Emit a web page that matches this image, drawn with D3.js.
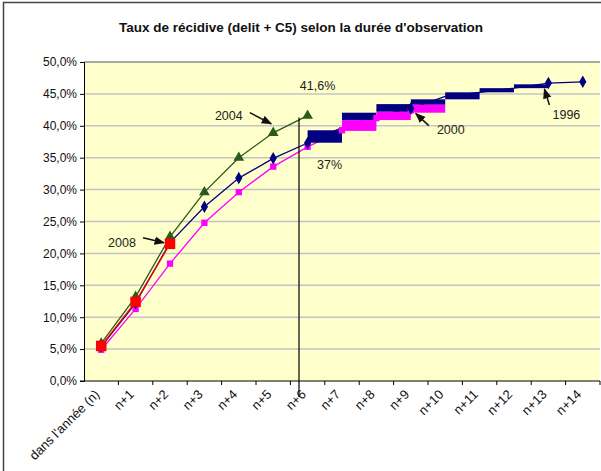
<!DOCTYPE html>
<html>
<head>
<meta charset="utf-8">
<script src="https://cdn.jsdelivr.net/npm/d3@7"></script>
<style>
  body { margin: 0; background: #fff; }
  text { font-family: "Liberation Sans", Arial, sans-serif; }
</style>
</head>
<body>
<script>
// categories and tick values
const categories = ["dans l'année (n)", "n+1", "n+2", "n+3", "n+4", "n+5", "n+6",
    "n+7", "n+8", "n+9", "n+10", "n+11", "n+12", "n+13", "n+14"];
const yTicks = [0, 5, 10, 15, 20, 25, 30, 35, 40, 45, 50];

// series (percent), starting at "dans l'année (n)"
const s1996 = [5.4, 12.2, 21.7, 27.3, 31.8, 34.9, 37.3, 39.7, 41.6, 42.7, 44.6, 45.25, 45.9, 46.7, 46.9];
const s2000 = [4.9, 11.3, 18.4, 24.8, 29.6, 33.6, 36.7, 39.3, 41.2, 42.4];
const s2004 = [5.9, 13.2, 22.6, 29.6, 35.0, 38.9, 41.6];
const s2008 = [5.5, 12.4, 21.5];
// 1996 points whose markers show (the others sit under the thick steps)
const marked1996 = [0, 1, 2, 3, 4, 5, 6, 9, 13, 14];

// thick step bands (one block per category, from its centre to the next one)
const navyStart = 6;
const navyLow  = [37.35, 40.9, 42.2, 43.3, 44.15, 45.25, 45.9];
const navyHigh = [39.3, 42.05, 43.4, 44.15, 45.25, 45.9, 46.5];
const pinkStart = 7;
const pinkLow  = [39.2, 40.9, 42.05];
const pinkHigh = [40.9, 42.2, 43.3];

const width = 601;
const height = 471;
const plotLeft = 84, plotRight = 600, plotTop = 62, plotBottom = 381;

const svg = d3.select('body')
    .append('svg')
    .attr('width', width)
    .attr('height', height);

// chart frame
svg.append('rect')
    .attr('x', 3.5).attr('y', 2.5)
    .attr('width', 640).attr('height', 520)
    .attr('fill', '#fff')
    .attr('stroke', '#444')
    .attr('stroke-width', 1.5);

svg.append('text')
    .attr('x', 301).attr('y', 32)
    .attr('text-anchor', 'middle')
    .attr('font-size', 13.5)
    .attr('font-weight', 'bold')
    .attr('fill', '#111')
    .text("Taux de récidive (delit + C5) selon la durée d'observation");

const x = d3.scaleBand()
    .domain(categories)
    .range([plotLeft, plotRight])
    .padding(0);
const cx = i => x(categories[i]) + x.bandwidth() / 2;

const y = d3.scaleLinear()
    .domain([0, 50])
    .range([plotBottom, plotTop]);

// plot area
svg.append('rect')
    .attr('x', plotLeft).attr('y', plotTop)
    .attr('width', plotRight - plotLeft).attr('height', plotBottom - plotTop)
    .attr('fill', '#FFFFCC');

svg.append('g')
    .selectAll('line')
    .data(yTicks.filter(d => d > 0))
    .enter()
    .append('line')
    .attr('x1', plotLeft).attr('x2', plotRight)
    .attr('y1', d => y(d)).attr('y2', d => y(d))
    .attr('stroke', d => d === 50 ? '#8c8c8c' : '#c4c4c4')
    .attr('stroke-width', 1.5);

// axes
const yAxis = d3.axisLeft(y)
    .tickValues(yTicks)
    .tickSize(4)
    .tickFormat(d => d.toFixed(1).replace('.', ',') + '%');

svg.append('g')
    .attr('transform', `translate(${plotLeft}, 0)`)
    .call(yAxis)
    .call(g => g.select('.domain').attr('stroke', '#000'))
    .call(g => g.selectAll('text').attr('font-size', 12).attr('fill', '#111')
        .attr('font-family', '"Liberation Sans", Arial, sans-serif').attr('x', -7));

const xAxis = svg.append('g')
    .attr('transform', `translate(0, ${plotBottom})`);

xAxis.append('line')
    .attr('x1', plotLeft - 4).attr('x2', plotRight)
    .attr('stroke', '#000');

xAxis.selectAll('.tick')
    .data(categories.slice(1).concat(['end']))
    .enter()
    .append('line')
    .attr('x1', (d, i) => plotLeft + x.bandwidth() * (i + 1))
    .attr('x2', (d, i) => plotLeft + x.bandwidth() * (i + 1))
    .attr('y1', 0).attr('y2', 4)
    .attr('stroke', '#000');

xAxis.selectAll('text')
    .data(categories)
    .enter()
    .append('text')
    .attr('transform', (d, i) => `translate(${cx(i) - 4}, 11) rotate(-45)`)
    .attr('text-anchor', 'end')
    .attr('dy', '0.35em')
    .attr('font-size', 13)
    .attr('fill', '#111')
    .text(d => d);

// series
const line = d3.line()
    .x((d, i) => cx(i))
    .y(d => y(d));

function seriesLine(values, color) {
    svg.append('path')
        .datum(values)
        .attr('d', line)
        .attr('fill', 'none')
        .attr('stroke', color)
        .attr('stroke-width', 1.3);
}
function seriesMarks(values, color, symbol, size, only) {
    svg.append('g')
        .selectAll('path')
        .data(values.map((v, i) => [i, v]).filter(d => !only || only.includes(d[0])))
        .enter()
        .append('path')
        .attr('transform', d => `translate(${cx(d[0])}, ${y(d[1])})`)
        .attr('d', d3.symbol().type(symbol).size(size))
        .attr('fill', color);
}

seriesLine(s2000, '#FF00FF');
seriesLine(s1996, '#000080');

// thick step blocks drawn over the long series
function blocks(start, lows, highs, color) {
    svg.append('g')
        .selectAll('rect')
        .data(lows)
        .enter()
        .append('rect')
        .attr('x', (d, i) => cx(start + i))
        .attr('width', x.bandwidth())
        .attr('y', (d, i) => y(highs[i]))
        .attr('height', (d, i) => y(d) - y(highs[i]))
        .attr('fill', color);
}
blocks(navyStart, navyLow, navyHigh, '#000080');
blocks(pinkStart, pinkLow, pinkHigh, '#FF00FF');

seriesMarks(s2000, '#FF00FF', d3.symbolSquare, 40);
seriesMarks(s1996, '#000080', d3.symbolDiamond, 45, marked1996);

seriesLine(s2004, '#2B5A1B');
seriesMarks(s2004, '#2B5A1B', d3.symbolTriangle, 50);
seriesLine(s2008, '#FF0000');
seriesMarks(s2008, '#FF0000', d3.symbolSquare, 110);

// vertical marker between n+5 and n+6
const vx = x('n+6') + x.bandwidth() * 0.25;
svg.append('line')
    .attr('x1', vx).attr('x2', vx)
    .attr('y1', y(s2004[6]) + 2).attr('y2', plotBottom + 16)
    .attr('stroke', '#000')
    .attr('stroke-width', 1.2);

// annotations
svg.append('defs').append('marker')
    .attr('id', 'arrow')
    .attr('viewBox', '0 0 10 10')
    .attr('refX', 9).attr('refY', 5)
    .attr('markerWidth', 7).attr('markerHeight', 7)
    .attr('orient', 'auto')
    .append('path')
    .attr('d', 'M0,1 L10,5 L0,9 z')
    .attr('fill', '#111');

function note(label, tx, ty, arrow) {
    svg.append('text')
        .attr('x', tx).attr('y', ty)
        .attr('text-anchor', 'middle')
        .attr('font-size', 12.5)
        .attr('fill', '#222')
        .text(label);
    if (arrow) {
        svg.append('line')
            .attr('x1', arrow[0]).attr('y1', arrow[1])
            .attr('x2', arrow[2]).attr('y2', arrow[3])
            .attr('stroke', '#111')
            .attr('stroke-width', 1.5)
            .attr('marker-end', 'url(#arrow)');
    }
}
note('2008', cx(2) - 48, y(s2008[2]) + 3, [cx(2) - 27, y(s2008[2]) - 6, cx(2) - 6, y(s2008[2]) - 1]);
note('2004', cx(4) - 10, y(s2004[4]) - 38, [cx(4) + 11, y(s2004[4]) - 45, cx(5) - 2, y(s2004[5]) - 9]);
note('41,6%', cx(6) + 10, y(s2004[6]) - 26);
note('37%', cx(6) + 22, y(s2000[6]) + 22);
note('2000', cx(9) + 40, y(s1996[9]) + 25, [cx(9) + 18, y(s1996[9]) + 17, cx(9) + 5, y(s1996[9]) + 5]);
note('1996', cx(13) + 18, y(s1996[13]) + 36, [cx(13) + 1, y(s1996[13]) + 22, cx(13) - 4, y(s1996[13]) + 6]);
</script>
</body>
</html>
